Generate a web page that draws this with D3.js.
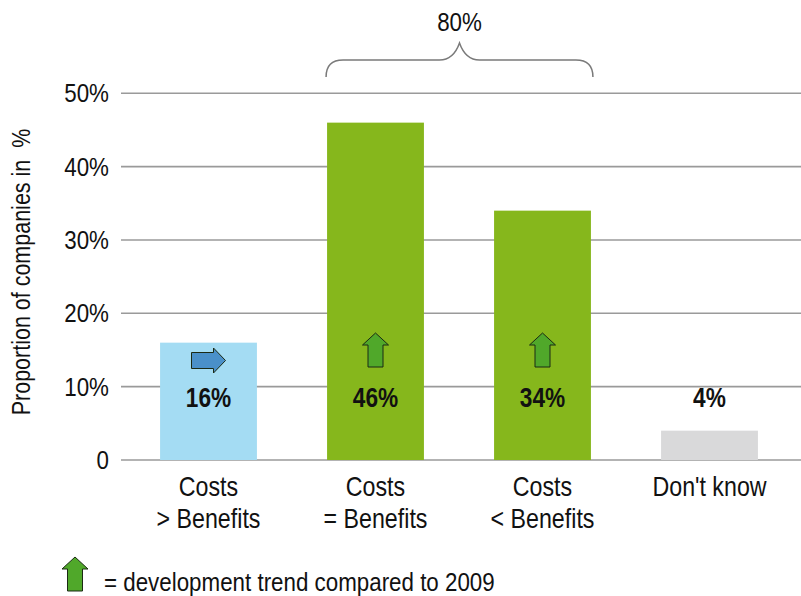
<!DOCTYPE html>
<html>
<head>
<meta charset="utf-8">
<script src="https://cdn.jsdelivr.net/npm/d3@7"></script>
<style>
  html, body { margin: 0; padding: 0; background: #fff; }
  svg { display: block; }
  text { font-family: "Liberation Sans", Arial, Helvetica, sans-serif; fill: #111; }
</style>
</head>
<body>
<svg id="chart" width="801" height="596"></svg>
<script>
// Cost/benefit assessment, share of companies per answer
const categories = [["Costs", "> Benefits"], ["Costs", "= Benefits"], ["Costs", "< Benefits"], ["Don't know"]];
const values = [16, 46, 34, 4];
const valueLabels = ["16%", "46%", "34%", "4%"];
const trend = ["right", "up", "up", null];
const barColors = ["#a4dcf3", "#86b71c", "#86b71c", "#d9d9da"];
const yTicks = [0, 10, 20, 30, 40, 50];
const yTickLabels = ["0", "10%", "20%", "30%", "40%", "50%"];
const braceLabel = "80%";
const yTitle = "Proportion of companies in  %";
const legendText = "= development trend compared to 2009";

// condensed look: regular sans squeezed horizontally
const SX = 0.86;
const squeeze = (px, py) => `translate(${px},${py}) scale(${SX},1)`;

const svg = d3.select("#chart");

const x = d3.scaleBand()
  .domain(d3.range(categories.length))
  .range([125, 793])
  .paddingInner(0.42)
  .paddingOuter(0.21);

const y = d3.scaleLinear().domain([0, 50]).range([460, 93.3]);

// gridlines
svg.append("g").selectAll("line")
  .data(yTicks)
  .join("line")
  .attr("x1", 121).attr("x2", 801)
  .attr("y1", d => y(d)).attr("y2", d => y(d))
  .attr("stroke", "#9a9a9a").attr("stroke-width", 1.6);

// y tick labels
svg.append("g").selectAll("text")
  .data(yTicks)
  .join("text")
  .attr("transform", d => squeeze(109, y(d) + 9))
  .attr("text-anchor", "end")
  .attr("font-size", 26)
  .text((d, i) => yTickLabels[i]);

// y axis title
svg.append("text")
  .attr("transform", `translate(30,272) rotate(-90) scale(${SX},1)`)
  .attr("text-anchor", "middle")
  .attr("font-size", 25)
  .style("white-space", "pre")
  .text(yTitle);

// bars
svg.append("g").selectAll("rect")
  .data(values)
  .join("rect")
  .attr("x", (d, i) => x(i))
  .attr("width", x.bandwidth())
  .attr("y", d => y(d))
  .attr("height", d => y(0) - y(d))
  .attr("fill", (d, i) => barColors[i]);

// value labels on one common line
svg.append("g").selectAll("text")
  .data(values)
  .join("text")
  .attr("transform", (d, i) => `translate(${x(i) + x.bandwidth() / 2},407) scale(0.84,1)`)
  .attr("text-anchor", "middle")
  .attr("font-size", 27)
  .attr("font-weight", "bold")
  .text((d, i) => valueLabels[i]);

// trend arrows
const upArrow = "M0,-17 L13,-5 L7.5,-5 L7.5,17 L-7.5,17 L-7.5,-5 L-13,-5 Z";
const rightArrow = "M17,0 L5,-12.5 L5,-8 L-17,-8 L-17,8 L5,8 L5,12.5 Z";

svg.append("g").selectAll("path")
  .data(trend.map((t, i) => ({ t, i })).filter(d => d.t))
  .join("path")
  .attr("transform", d => d.t === "up"
    ? `translate(${x(d.i) + x.bandwidth() / 2},350)`
    : `translate(${x(d.i) + x.bandwidth() / 2},360.5)`)
  .attr("d", d => d.t === "up" ? upArrow : rightArrow)
  .attr("fill", d => d.t === "up" ? "#50a82a" : "#4a90c9")
  .attr("stroke", "#1b2a14")
  .attr("stroke-width", 1);

// category labels, one line per tspan
svg.append("g").selectAll("g")
  .data(categories)
  .join("g")
  .attr("transform", (d, i) => squeeze(x(i) + x.bandwidth() / 2, 496))
  .selectAll("text")
  .data(d => d)
  .join("text")
  .attr("y", (d, j) => j * 32)
  .attr("text-anchor", "middle")
  .attr("font-size", 27)
  .text(d => d);

// brace over the two middle bars
const bx0 = x(1) - 1, bx1 = x(2) + x.bandwidth() + 2, bmid = (bx0 + bx1) / 2;
const yb = 60, yEnd = 77, yTip = 43;
const brace = d3.path();
brace.moveTo(bx0, yEnd);
brace.quadraticCurveTo(bx0, yb, bx0 + 17, yb);
brace.lineTo(bmid - 20, yb);
brace.quadraticCurveTo(bmid - 6, yb, bmid, yTip);
brace.quadraticCurveTo(bmid + 6, yb, bmid + 20, yb);
brace.lineTo(bx1 - 17, yb);
brace.quadraticCurveTo(bx1, yb, bx1, yEnd);
svg.append("path")
  .attr("d", brace.toString())
  .attr("fill", "none")
  .attr("stroke", "#7a7a7a")
  .attr("stroke-width", 1.5);

svg.append("text")
  .attr("transform", squeeze(bmid, 31))
  .attr("text-anchor", "middle")
  .attr("font-size", 26)
  .text(braceLabel);

// legend
svg.append("path")
  .attr("transform", "translate(75,574)")
  .attr("d", upArrow)
  .attr("fill", "#50a82a")
  .attr("stroke", "#1b2a14")
  .attr("stroke-width", 1);
svg.append("text")
  .attr("transform", squeeze(104, 591))
  .attr("font-size", 26)
  .text(legendText);
</script>
</body>
</html>
